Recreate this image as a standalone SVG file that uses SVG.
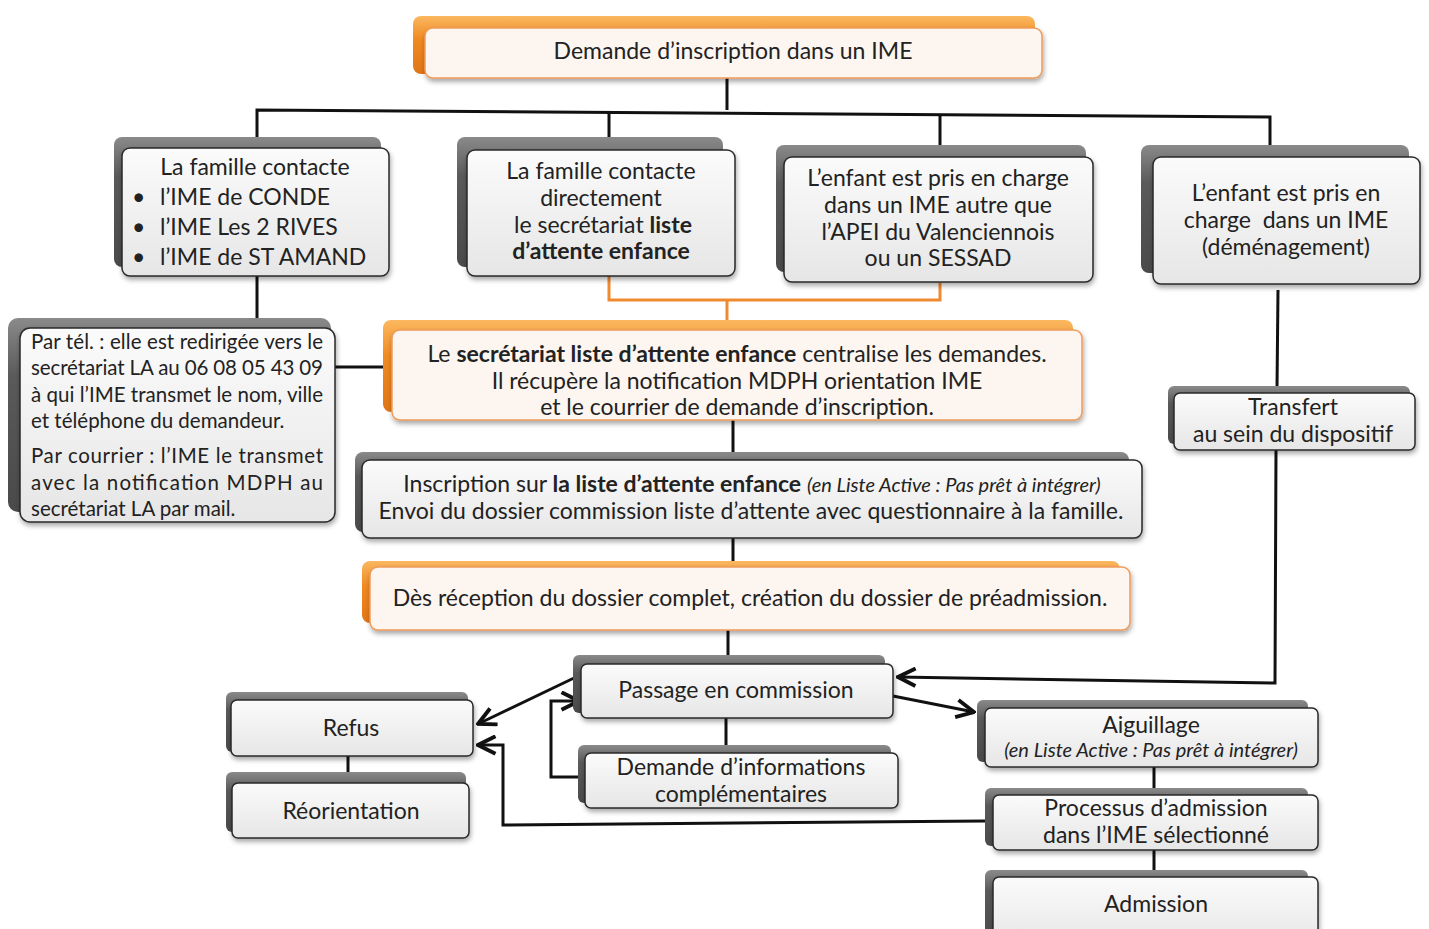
<svg xmlns="http://www.w3.org/2000/svg" width="1429" height="929" viewBox="0 0 1429 929">
<style>
text{font-family:Lato,"Open Sans","Liberation Sans",sans-serif;fill:#222;font-size:23px}
.c{text-anchor:middle}
.b{font-weight:bold}
.i{font-style:italic;font-size:20px}
.sm{font-size:20.5px}
.back{fill:url(#gb)}
.backo{fill:url(#go)}
.front{fill:url(#gf);stroke:#2a2a2a;stroke-width:1.5;filter:url(#sh)}
.fronto{fill:#fdf5f0;stroke:#f09a58;stroke-width:1.5;filter:url(#sh)}
.ln{fill:none;stroke:#111;stroke-width:3}
.lo{fill:none;stroke:#f08a30;stroke-width:3}
.ar{fill:none;stroke:#111;stroke-width:3;marker-end:url(#ah)}
</style>
<defs>
<linearGradient id="gb" x1="0" y1="0" x2="0" y2="1"><stop offset="0" stop-color="#8a8a8a"/><stop offset="0.3" stop-color="#5a5a5a"/><stop offset="1" stop-color="#4a4a4a"/></linearGradient>
<linearGradient id="go" x1="0" y1="0" x2="0" y2="1"><stop offset="0" stop-color="#fbb860"/><stop offset="0.4" stop-color="#f08a22"/><stop offset="1" stop-color="#e07516"/></linearGradient>
<linearGradient id="gf" x1="0" y1="0" x2="0" y2="1"><stop offset="0" stop-color="#fbfbfb"/><stop offset="1" stop-color="#e6e6e6"/></linearGradient>
<filter id="sh" x="-5%" y="-10%" width="110%" height="130%"><feDropShadow dx="1" dy="3" stdDeviation="2.5" flood-color="#000" flood-opacity="0.35"/></filter>
<marker id="ah" viewBox="0 0 12 12" refX="11" refY="6" markerWidth="7" markerHeight="7" markerUnits="strokeWidth" orient="auto"><path d="M1,1 L11,6 L1,11" fill="none" stroke="#111" stroke-width="2.2"/></marker>
</defs>

<g id="connectors">
<polyline class="ln" points="727,78 727,110"/>
<polyline class="ln" points="257,138 257,110 1270,117 1270,145"/>
<polyline class="ln" points="609,138 609,112"/>
<polyline class="ln" points="940,145 940,115"/>
<polyline class="lo" points="609,276 609,300 940,300 940,283"/>
<polyline class="lo" points="727,300 727,322"/>
<polyline class="ln" points="257,276 257,318"/>
<polyline class="ln" points="335,367 385,367"/>
<polyline class="ln" points="1278,290 1277,388"/>
<polyline class="ln" points="733,420 733,455"/>
<polyline class="ln" points="733,538 733,562"/>
<polyline class="ln" points="728,630 728,657"/>
<polyline class="ln" points="726,718 726,748"/>
<polyline class="ln" points="348,756 348,783"/>
<polyline class="ln" points="1154,767 1154,790"/>
<polyline class="ln" points="1154,850 1154,873"/>
<polyline class="ar" points="1276,450 1275,683 898,677"/>
<polyline class="ar" points="585,777 551,777 551,701 579,701"/>
<polyline class="ar" points="574,678 478,724"/>
<polyline class="ar" points="985,821 503,825 503,745 478,745"/>
<polyline class="ar" points="893,696 974,712"/>
</g>

<g id="n-demande">
<rect class="backo" x="413" y="16" width="622" height="58" rx="8"/>
<rect class="fronto" x="425" y="28" width="617" height="50" rx="8"/>
<text class="c" x="733" y="59">Demande d’inscription dans un IME</text>
</g>

<g id="n-famille-ime">
<rect class="back" x="114" y="137" width="267" height="130" rx="8"/>
<rect class="front" x="122" y="148" width="267" height="128" rx="8"/>
<text class="c" x="255" y="175">La famille contacte</text>
<text x="132" y="205">•</text><text x="160" y="205">l’IME de CONDE</text>
<text x="132" y="235">•</text><text x="160" y="235">l’IME Les 2 RIVES</text>
<text x="132" y="265">•</text><text x="160" y="265">l’IME de ST AMAND</text>
</g>

<g id="n-famille-direct">
<rect class="back" x="457" y="137" width="266" height="130" rx="8"/>
<rect class="front" x="467" y="150" width="268" height="126" rx="8"/>
<text class="c" x="601" y="179">La famille contacte</text>
<text class="c" x="601" y="206">directement</text>
<text class="c" x="603" y="233">le secrétariat <tspan class="b">liste</tspan></text>
<text class="c b" x="601" y="259">d’attente enfance</text>
</g>

<g id="n-autre-ime">
<rect class="back" x="776" y="145" width="310" height="127" rx="8"/>
<rect class="front" x="784" y="157" width="309" height="125" rx="8"/>
<text class="c" x="938" y="186">L’enfant est pris en charge</text>
<text class="c" x="938" y="213">dans un IME autre que</text>
<text class="c" x="938" y="240">l’APEI du Valenciennois</text>
<text class="c" x="938" y="266">ou un SESSAD</text>
</g>

<g id="n-demenagement">
<rect class="back" x="1141" y="145" width="268" height="128" rx="8"/>
<rect class="front" x="1153" y="157" width="267" height="127" rx="8"/>
<text class="c" x="1286" y="201">L’enfant est pris en</text>
<text class="c" x="1286" y="228" xml:space="preserve">charge  dans un IME</text>
<text class="c" x="1286" y="255">(déménagement)</text>
</g>

<g id="n-partel">
<rect class="back" x="8" y="318" width="323" height="194" rx="10"/>
<rect class="front" x="20" y="328" width="315" height="194" rx="10"/>
<text class="sm" x="31" y="349" textLength="292" lengthAdjust="spacing">Par tél. : elle est redirigée vers le</text>
<text class="sm" x="31" y="375" textLength="292" lengthAdjust="spacing">secrétariat LA au 06 08 05 43 09</text>
<text class="sm" x="31" y="402" textLength="292" lengthAdjust="spacing">à qui l’IME transmet le nom, ville</text>
<text class="sm" x="31" y="428">et téléphone du demandeur.</text>
<text class="sm" x="31" y="463" textLength="292" lengthAdjust="spacing">Par courrier : l’IME le transmet</text>
<text class="sm" x="31" y="490" textLength="292" lengthAdjust="spacing">avec la notification MDPH au</text>
<text class="sm" x="31" y="516">secrétariat LA par mail.</text>
</g>

<g id="n-secretariat">
<rect class="backo" x="383" y="320" width="690" height="92" rx="8"/>
<rect class="fronto" x="392" y="330" width="690" height="90" rx="8"/>
<text class="c" x="737" y="362">Le <tspan class="b">secrétariat liste d’attente enfance</tspan> centralise les demandes.</text>
<text class="c" x="737" y="389">Il récupère la notification MDPH orientation IME</text>
<text class="c" x="737" y="415">et le courrier de demande d’inscription.</text>
</g>

<g id="n-inscription">
<rect class="back" x="355" y="452" width="774" height="80" rx="8"/>
<rect class="front" x="362" y="460" width="780" height="78" rx="8"/>
<text class="c" x="752" y="492">Inscription sur <tspan class="b">la liste d’attente enfance</tspan> <tspan class="i">(en Liste Active : Pas prêt à intégrer)</tspan></text>
<text class="c" x="751" y="519">Envoi du dossier commission liste d’attente avec questionnaire à la famille.</text>
</g>

<g id="n-reception">
<rect class="backo" x="362" y="561" width="758" height="62" rx="8"/>
<rect class="fronto" x="370" y="567" width="760" height="63" rx="8"/>
<text class="c" x="750" y="606">Dès réception du dossier complet, création du dossier de préadmission.</text>
</g>

<g id="n-passage">
<rect class="back" x="573" y="655" width="312" height="58" rx="6"/>
<rect class="front" x="581" y="664" width="312" height="54" rx="6"/>
<text class="c" x="736" y="698">Passage en commission</text>
</g>

<g id="n-infos">
<rect class="back" x="578" y="745" width="313" height="58" rx="6"/>
<rect class="front" x="585" y="753" width="313" height="55" rx="6"/>
<text class="c" x="741" y="775">Demande d’informations</text>
<text class="c" x="741" y="802">complémentaires</text>
</g>

<g id="n-refus">
<rect class="back" x="226" y="692" width="242" height="60" rx="6"/>
<rect class="front" x="231" y="700" width="242" height="56" rx="6"/>
<text class="c" x="351" y="736">Refus</text>
</g>

<g id="n-reorientation">
<rect class="back" x="226" y="772" width="240" height="60" rx="6"/>
<rect class="front" x="232" y="783" width="237" height="55" rx="6"/>
<text class="c" x="351" y="819">Réorientation</text>
</g>

<g id="n-transfert">
<rect class="back" x="1168" y="386" width="242" height="58" rx="6"/>
<rect class="front" x="1174" y="393" width="241" height="57" rx="6"/>
<text class="c" x="1293" y="415">Transfert</text>
<text class="c" x="1293" y="442">au sein du dispositif</text>
</g>

<g id="n-aiguillage">
<rect class="back" x="977" y="700" width="331" height="62" rx="6"/>
<rect class="front" x="985" y="708" width="333" height="59" rx="6"/>
<text class="c" x="1151" y="733">Aiguillage</text>
<text class="c i" x="1151" y="757">(en Liste Active : Pas prêt à intégrer)</text>
</g>

<g id="n-processus">
<rect class="back" x="985" y="788" width="323" height="58" rx="6"/>
<rect class="front" x="993" y="795" width="325" height="55" rx="6"/>
<text class="c" x="1156" y="816">Processus d’admission</text>
<text class="c" x="1156" y="843">dans l’IME sélectionné</text>
</g>

<g id="n-admission">
<rect class="back" x="985" y="870" width="323" height="70" rx="6"/>
<rect class="front" x="993" y="877" width="325" height="70" rx="6"/>
<text class="c" x="1156" y="912">Admission</text>
</g>
</svg>
